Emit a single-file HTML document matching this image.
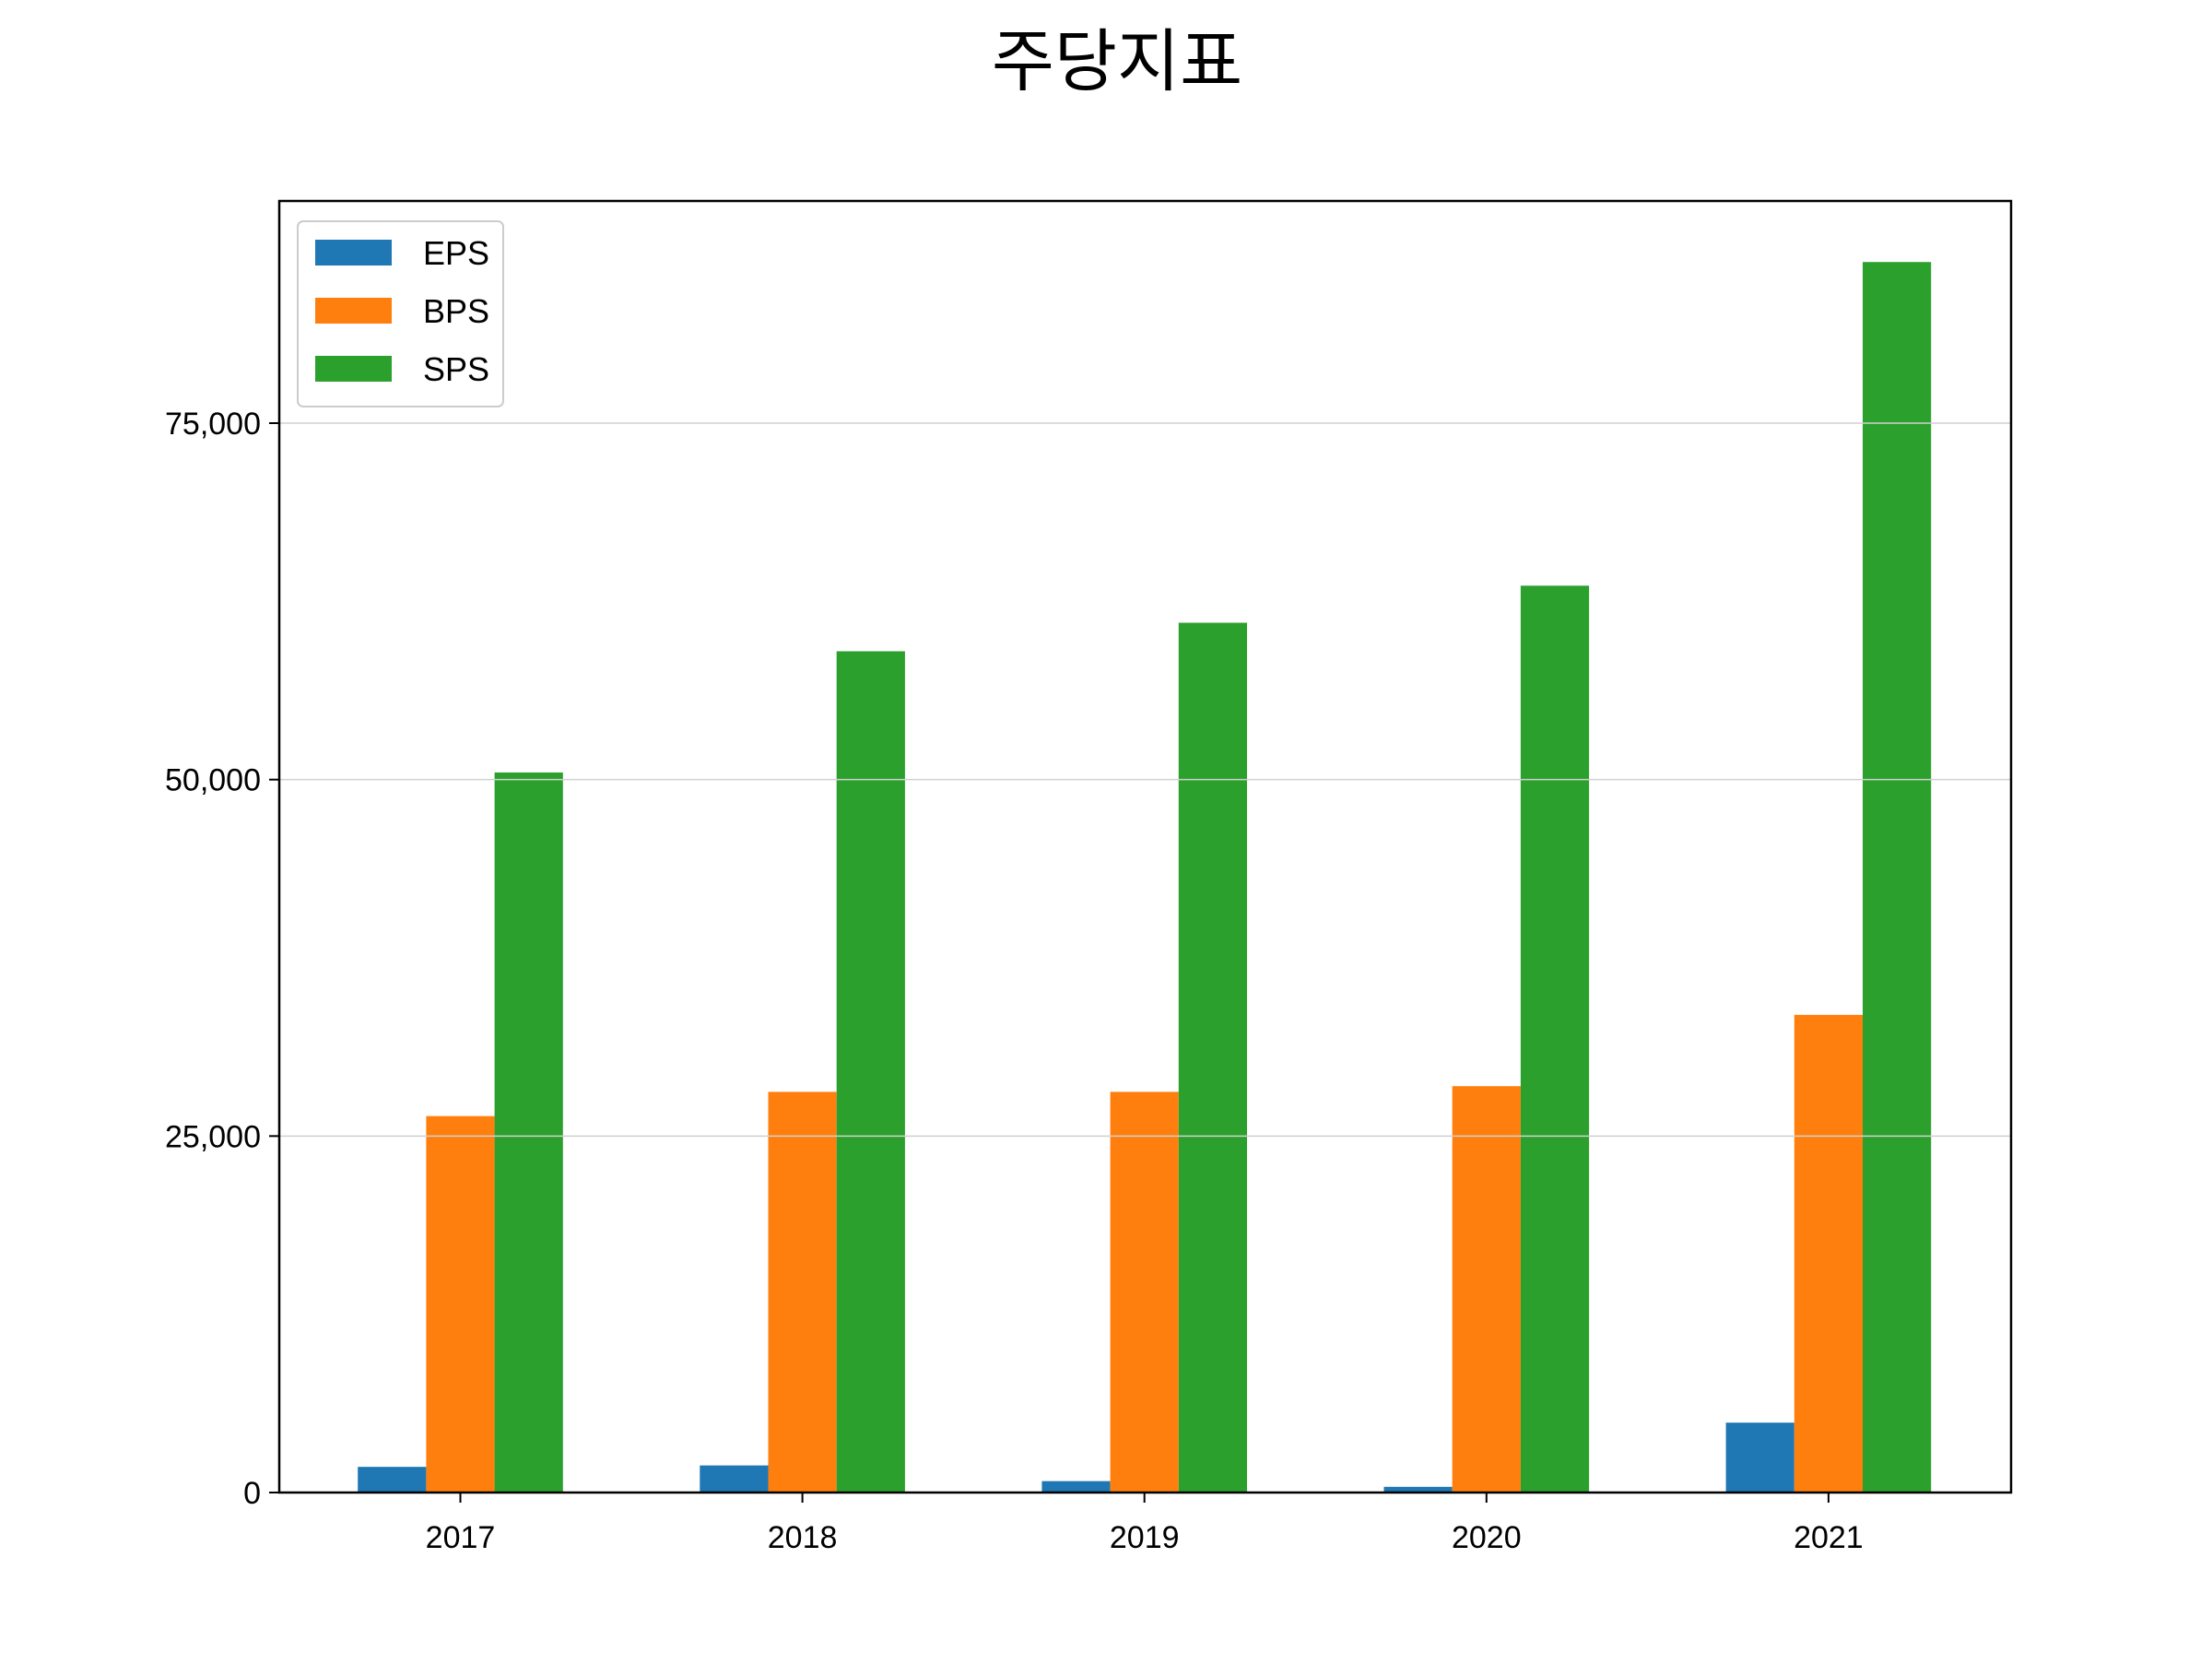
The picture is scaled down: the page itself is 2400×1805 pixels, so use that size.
<!DOCTYPE html>
<html><head><meta charset="utf-8"><style>
html,body{margin:0;padding:0;background:#fff;}
svg text{font-family:"Liberation Sans","Noto Sans CJK KR",sans-serif;}
</style></head><body>
<svg id="chart" width="2400" height="1800" xmlns="http://www.w3.org/2000/svg">
<rect width="2400" height="1800" fill="#fff"/>
<text x="1212" y="92" font-size="74" text-anchor="middle" fill="#000">주당지표</text>
<g id="bars"></g><g id="grid"></g><g id="axes"></g><g id="legend"></g>
</svg>
<script>
const categories = ["2017","2018","2019","2020","2021"];
const seriesNames = ["EPS","BPS","SPS"];
const eps = [1800,1900,800,400,4900];
const bps = [26400,28100,28100,28500,33500];
const sps = [50500,59000,61000,63600,86300];
const yTicks = [0,25000,50000,75000];
const yTickLabels = ["0","25,000","50,000","75,000"];
const colors = ["#1f77b4","#ff7f0e","#2ca02c"];
const NS="http://www.w3.org/2000/svg";
const L=303,R=2182,T=218,B=1619;
const yScale=v=>B-v*(1160/75000);
const step=371.1, x0=499.5, bw=74.2;
const xScale=i=>x0+i*step;
function mk(tag,attrs,parent){const e=document.createElementNS(NS,tag);for(const k in attrs)e.setAttribute(k,attrs[k]);parent.appendChild(e);return e;}
const bars=document.getElementById('bars');
[eps,bps,sps].forEach((s,si)=>{s.forEach((v,i)=>{
 const r=mk('rect',{x:xScale(i)+(si-1)*bw-bw/2,y:yScale(v),width:bw,height:B-yScale(v),fill:colors[si]},bars);
 
 
});});
const grid=document.getElementById('grid');
yTicks.forEach(t=>{if(t===0)return;const l=mk('line',{x1:L,x2:R,y1:yScale(t),y2:yScale(t),stroke:'#d0d0d0','stroke-width':1.5},grid);
 });
const axes=document.getElementById('axes');
const fr=mk('rect',{x:L,y:T,width:R-L,height:B-T,fill:'none',stroke:'#000','stroke-width':2.5},axes);

yTicks.forEach((t,i)=>{const y=yScale(t);mk('line',{x1:L-11,x2:L,y1:y,y2:y,stroke:'#000','stroke-width':2},axes);
 const tx=mk('text',{x:L-20,y:y+12,'font-size':34,'text-anchor':'end',fill:'#000'},axes);tx.textContent=yTickLabels[i];
 });
categories.forEach((c,i)=>{const x=xScale(i);mk('line',{x1:x,x2:x,y1:B,y2:B+11,stroke:'#000','stroke-width':2},axes);
 const tx=mk('text',{x:x,y:1679,'font-size':34,'text-anchor':'middle',fill:'#000'},axes);tx.textContent=c;
 });
const lg=document.getElementById('legend');

mk('rect',{x:323,y:240,width:223,height:201,rx:6,fill:'#fff','fill-opacity':0.8,stroke:'#ccc','stroke-width':2},lg);
seriesNames.forEach((n,i)=>{const cy=274+i*63;
 const p=mk('rect',{x:342,y:cy-14,width:83,height:28,fill:colors[i]},lg);
 
 const tx=mk('text',{x:459,y:cy+13,'font-size':36,fill:'#000'},lg);tx.textContent=n;
 });
</script>
</body></html>
